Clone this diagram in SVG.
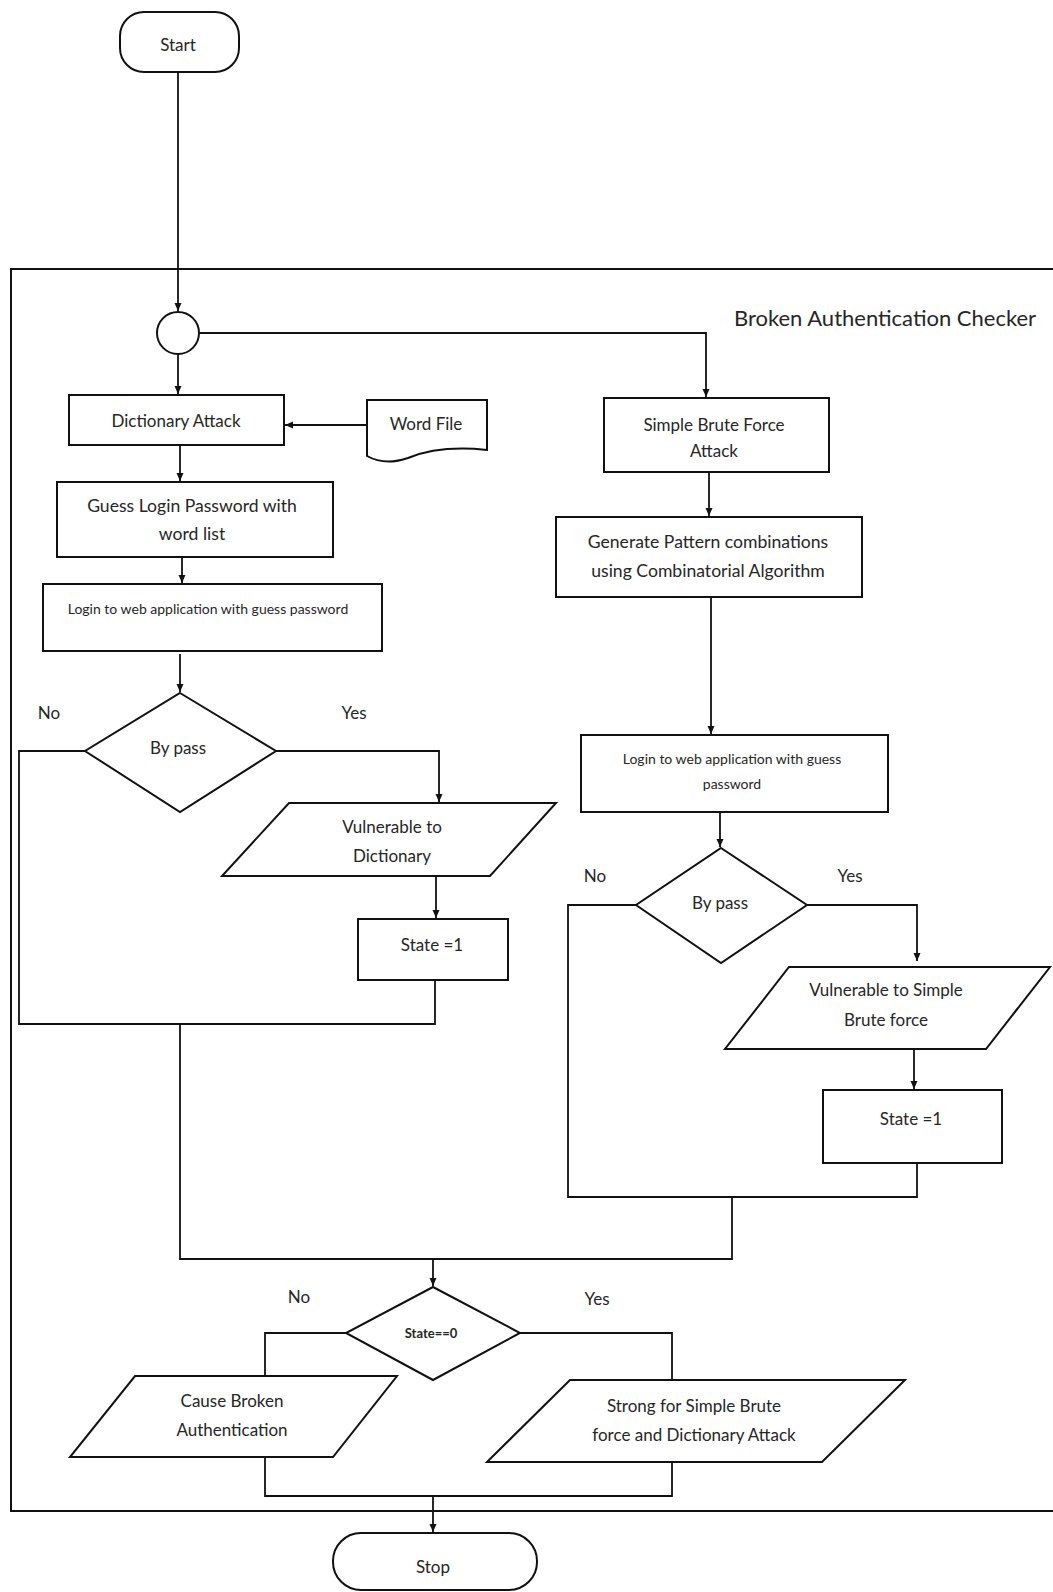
<svg xmlns="http://www.w3.org/2000/svg" width="1053" height="1592" viewBox="0 0 1053 1592">
<style>
.s{fill:#fff;stroke:#111;stroke-width:2}
.c{fill:none;stroke:#111;stroke-width:1.8}
.t{font-family:Lato,"Liberation Sans",sans-serif;font-size:17px;fill:#262626;text-anchor:middle;dominant-baseline:central}
.sm{font-size:14px}
.b{font-weight:bold;font-size:13px}
.l{font-size:17.6px}
</style>
<defs>
<marker id="a" markerWidth="10" markerHeight="10" refX="9" refY="5" orient="auto" markerUnits="userSpaceOnUse">
<path d="M1,1.5 L9,5 L1,8.5 Z" fill="#111"/>
</marker>
</defs>
<rect width="1053" height="1592" fill="#fff"/>
<g id="frame">
<path d="M1060,269 H11 V1511 H1060" fill="none" stroke="#111" stroke-width="2"/>
<text class="t" x="885" y="317" style="font-size:22px">Broken Authentication Checker</text>
</g>
<g id="connectors">
<path class="c" d="M178,72 V311" marker-end="url(#a)"/>
<path class="c" d="M178,354 V394" marker-end="url(#a)"/>
<path class="c" d="M199,333 H706 V397" marker-end="url(#a)"/>
<path class="c" d="M367,425 H285" marker-end="url(#a)"/>
<path class="c" d="M180,445 V481" marker-end="url(#a)"/>
<path class="c" d="M182,557 V583" marker-end="url(#a)"/>
<path class="c" d="M180,654 V692" marker-end="url(#a)"/>
<path class="c" d="M85,751 H19 V1024 H435 V980"/>
<path class="c" d="M276,751 H439 V802" marker-end="url(#a)"/>
<path class="c" d="M436,876 V918" marker-end="url(#a)"/>
<path class="c" d="M709,472 V516" marker-end="url(#a)"/>
<path class="c" d="M711,597 V734" marker-end="url(#a)"/>
<path class="c" d="M720,812 V847" marker-end="url(#a)"/>
<path class="c" d="M636,905 H568 V1197 H917 V1163"/>
<path class="c" d="M807,905 H917 V961" marker-end="url(#a)"/>
<path class="c" d="M914,1049 V1089" marker-end="url(#a)"/>
<path class="c" d="M180,1024 V1259 H732 V1197"/>
<path class="c" d="M433,1259 V1286" marker-end="url(#a)"/>
<path class="c" d="M346,1333 H265 V1376"/>
<path class="c" d="M520,1333 H672 V1380"/>
<path class="c" d="M265,1457 V1496 H672 V1462"/>
<path class="c" d="M433,1496 V1532" marker-end="url(#a)"/>
</g>
<g id="start">
<rect class="s" x="120" y="12" width="119" height="60" rx="24"/>
<text class="t" x="178" y="44">Start</text>
</g>
<g id="junction">
<circle class="s" cx="178" cy="333" r="21"/>
</g>
<g id="dictionary">
<rect class="s" x="69" y="395" width="215" height="50"/>
<text class="t" x="176" y="420">Dictionary Attack</text>
</g>
<g id="wordfile">
<path class="s" d="M367,400 H487 V450 Q440,445 408,458 Q385,466 367,456 Z"/>
<text class="t" x="426" y="423">Word File</text>
</g>
<g id="guess">
<rect class="s" x="57" y="482" width="276" height="75"/>
<text class="t l" x="192" y="505">Guess Login Password with</text>
<text class="t l" x="192" y="533">word list</text>
</g>
<g id="login1">
<rect class="s" x="43" y="584" width="339" height="67"/>
<text class="t sm" x="208" y="608">Login to web application with guess password</text>
</g>
<g id="bypass1">
<path class="s" d="M180,693 L276,751 L180,812 L85,751 Z"/>
<text class="t" x="178" y="747">By pass</text>
<text class="t" x="49" y="712">No</text>
<text class="t" x="354" y="712">Yes</text>
</g>
<g id="vuldict">
<path class="s" d="M289,803 H556 L490,876 H222 Z"/>
<text class="t" x="392" y="826">Vulnerable to</text>
<text class="t" x="392" y="855">Dictionary</text>
</g>
<g id="state1">
<rect class="s" x="358" y="919" width="150" height="61"/>
<text class="t" x="432" y="944">State =1</text>
</g>
<g id="brute">
<rect class="s" x="604" y="398" width="225" height="74"/>
<text class="t" x="714" y="424">Simple Brute Force</text>
<text class="t" x="714" y="450">Attack</text>
</g>
<g id="generate">
<rect class="s" x="556" y="517" width="306" height="80"/>
<text class="t l" x="708" y="541">Generate Pattern combinations</text>
<text class="t l" x="708" y="570">using Combinatorial Algorithm</text>
</g>
<g id="login2">
<rect class="s" x="581" y="735" width="307" height="77"/>
<text class="t sm" x="732" y="758">Login to web application with guess</text>
<text class="t sm" x="732" y="783">password</text>
</g>
<g id="bypass2">
<path class="s" d="M721,848 L807,905 L721,963 L636,905 Z"/>
<text class="t" x="720" y="902">By pass</text>
<text class="t" x="595" y="875">No</text>
<text class="t" x="850" y="875">Yes</text>
</g>
<g id="vulbrute">
<path class="s" d="M789,967 H1050 L986,1049 H725 Z"/>
<text class="t" x="886" y="989">Vulnerable to Simple</text>
<text class="t" x="886" y="1019">Brute force</text>
</g>
<g id="state2">
<rect class="s" x="823" y="1090" width="179" height="73"/>
<text class="t" x="911" y="1118">State =1</text>
</g>
<g id="state0">
<path class="s" d="M433,1287 L520,1333 L433,1380 L346,1333 Z"/>
<text class="t b" x="431" y="1333">State==0</text>
<text class="t" x="299" y="1296">No</text>
<text class="t" x="597" y="1298">Yes</text>
</g>
<g id="cause">
<path class="s" d="M135,1376 H397 L333,1457 H70 Z"/>
<text class="t" x="232" y="1400">Cause Broken</text>
<text class="t" x="232" y="1429">Authentication</text>
</g>
<g id="strong">
<path class="s" d="M570,1380 H905 L822,1462 H487 Z"/>
<text class="t" x="694" y="1405">Strong for Simple Brute</text>
<text class="t" x="694" y="1434">force and Dictionary Attack</text>
</g>
<g id="stop">
<rect class="s" x="333" y="1533" width="204" height="57" rx="28"/>
<text class="t" x="433" y="1566">Stop</text>
</g>
</svg>
